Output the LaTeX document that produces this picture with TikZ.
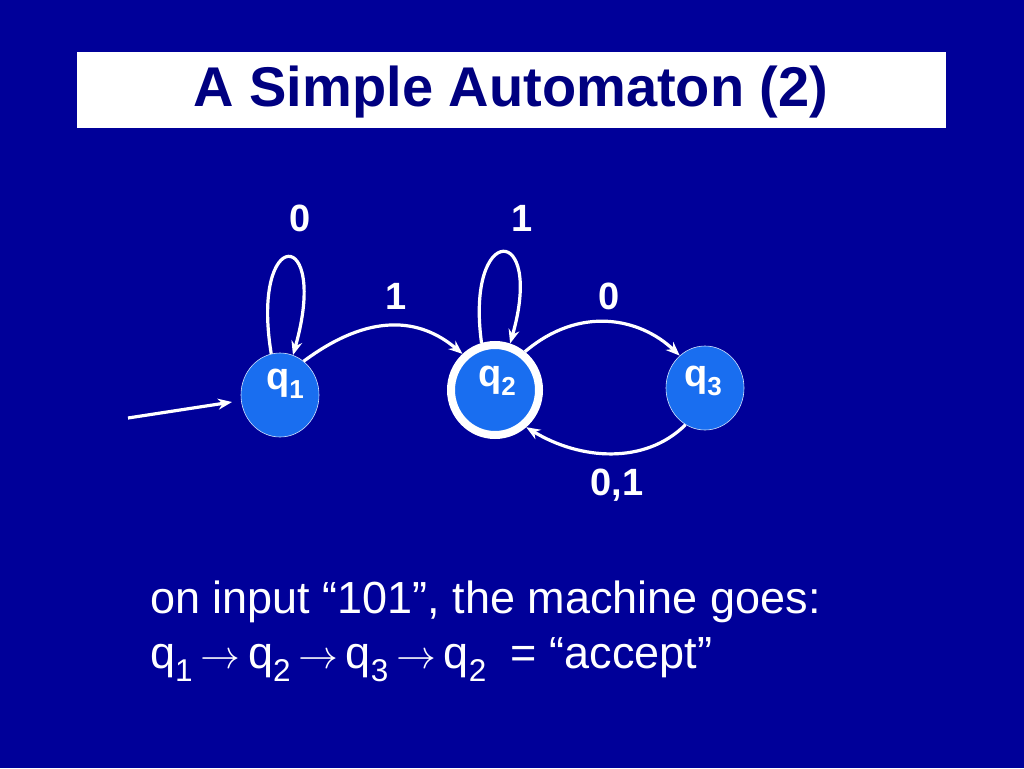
\documentclass[tikz,border=0pt]{standalone}
\usepackage{fontspec}
\setmainfont{Liberation Sans}
\usetikzlibrary{arrows.meta,shapes.geometric}
\definecolor{bg}{RGB}{0,0,153}
\definecolor{st}{RGB}{25,110,240}
\definecolor{tt}{RGB}{0,0,128}
\newcommand{\myarr}{\,\scalebox{1.6}{$\rightarrow$}\,}
\begin{document}
\begin{tikzpicture}[x=1pt,y=-1pt,
  state/.style={ellipse, minimum width=78pt, minimum height=84pt, fill=st, draw=white!80!st, line width=0.6pt, inner sep=0pt},
  edge/.style={draw=white, line width=3.2pt, -{Stealth[length=14pt,width=11pt]}},
  lab/.style={text=white, font=\fontsize{38}{40}\selectfont\bfseries},
  qlab/.style={text=white, font=\fontsize{38}{40}\selectfont\bfseries}]
\fill[bg] (0,0) rectangle (1024,768);
\useasboundingbox (0,0) rectangle (1024,768);
\node[fill=white, minimum width=869pt, minimum height=76pt, inner sep=0pt] (tb) at (511.5,90) {};
\node[text=tt, font=\fontsize{56}{60}\selectfont\bfseries] (title) at (511,92) {A Simple Automaton (2)};
\node[state] (q1) at (280,395) {};
\node[state, minimum width=88pt, minimum height=90pt, draw=white, line width=8pt] (q2) at (495,390) {};
\node[state] (q3) at (705,388) {};
\node[qlab] (t1) at (285,384) {q\raisebox{-0.25em}{\fontsize{26}{28}\selectfont 1}};
\node[qlab] (t2) at (497,381) {q\raisebox{-0.25em}{\fontsize{26}{28}\selectfont 2}};
\node[qlab] (t3) at (703,381) {q\raisebox{-0.25em}{\fontsize{26}{28}\selectfont 3}};
\coordinate (s0) at (128,418);
\draw[edge] (s0) -- (232,402);
\draw[edge] (q1.102) .. controls (250,225) and (330,225) .. (q1.72);
\draw[edge] (q2.106) .. controls (465,222) and (545,222) .. (q2.72);
\draw[edge] (q1.55) .. controls (370,312) and (420,318) .. (q2.132);
\draw[edge] (q2.52) .. controls (580,305) and (640,318) .. (q3.128);
\draw[edge] (q3.-118) .. controls (645,465) and (580,460) .. (q2.-50);
\node[lab] (l1) at (300,218) {0};
\node[lab] (l2) at (522,218) {1};
\node[lab] (l3) at (396,296) {1};
\node[lab] (l4) at (609,296) {0};
\node[lab] (l5) at (617,485) {0,1};
\node[text=white, font=\fontsize{45}{50}\selectfont, anchor=base west, inner sep=0pt] (line1) at (150,613) {on input “101”, the machine goes:};
\node[text=white, font=\fontsize{45}{50}\selectfont, anchor=base west, inner sep=0pt] (line2) at (150,668) {q\textsubscript{1}\myarr q\textsubscript{2}\myarr q\textsubscript{3}\myarr q\textsubscript{2}\hspace{24pt}= “accept”};
\end{tikzpicture}
\end{document}
